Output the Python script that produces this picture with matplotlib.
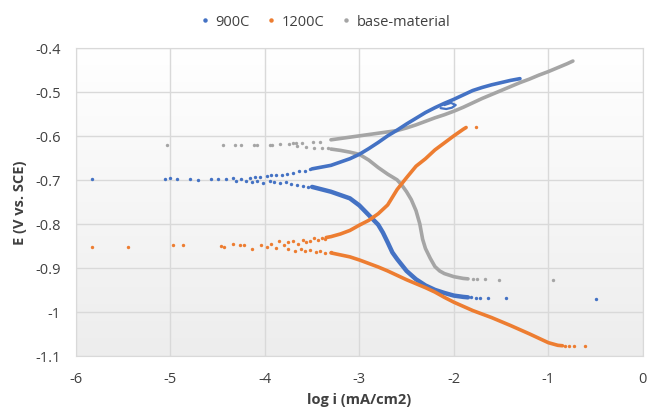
import numpy as np
import matplotlib
matplotlib.use("Agg")
import matplotlib.pyplot as plt
from matplotlib.lines import Line2D

plt.rcParams['font.family'] = ['Open Sans', 'DejaVu Sans']

BLUE = "#4472C4"
ORANGE = "#ED7D31"
GRAY = "#A5A5A5"

# ---- 900C ----
s900_sparse_x = [-5.83, -5.06, -5.0, -4.93, -4.79, -4.71, -4.57, -4.5, -4.41, -4.34, -4.3, -4.25,
                 -1.82, -1.77, -1.72, -1.64, -1.45, -0.50]
s900_sparse_y = [-0.697, -0.698, -0.696, -0.699, -0.699, -0.700, -0.699, -0.698, -0.697, -0.695, -0.703, -0.699,
                 -0.967, -0.968, -0.968, -0.968, -0.968, -0.970]
s900_noise_x = [-4.16, -4.1, -4.05, -3.98, -3.93, -3.88, -3.82, -3.76, -3.7, -3.64, -3.58, -3.52,
                -4.2, -4.14, -4.08, -4.02, -3.95, -3.9, -3.84, -3.78, -3.72, -3.66, -3.6, -3.54]
s900_noise_y = [-0.695, -0.693, -0.694, -0.691, -0.690, -0.690, -0.688, -0.687, -0.684, -0.681, -0.679, -0.676,
                -0.703, -0.706, -0.702, -0.708, -0.703, -0.705, -0.707, -0.706, -0.710, -0.712, -0.714, -0.716]
s900_anod_x = [-3.5, -3.3, -3.1, -3.0, -2.9, -2.8, -2.7, -2.6, -2.5, -2.4, -2.3, -2.2, -2.1, -2.0,
               -1.9, -1.8, -1.7, -1.6, -1.5, -1.4, -1.3]
s900_anod_y = [-0.675, -0.667, -0.652, -0.642, -0.629, -0.615, -0.600, -0.587, -0.573, -0.560, -0.547,
               -0.536, -0.526, -0.517, -0.507, -0.497, -0.490, -0.484, -0.479, -0.474, -0.470]
s900_loop_x = [-2.14, -2.08, -2.02, -1.98, -2.03, -2.1]
s900_loop_y = [-0.537, -0.539, -0.536, -0.530, -0.525, -0.530]
s900_cath_x = [-3.5, -3.3, -3.1, -3.0, -2.9, -2.8, -2.75, -2.7, -2.65, -2.6, -2.5, -2.4, -2.3, -2.2,
               -2.1, -2.0, -1.9, -1.85]
s900_cath_y = [-0.716, -0.727, -0.742, -0.758, -0.780, -0.802, -0.820, -0.842, -0.865, -0.880, -0.907,
               -0.926, -0.940, -0.950, -0.957, -0.963, -0.966, -0.967]

# ---- 1200C ----
s1200_sparse_x = [-5.83, -5.45, -4.97, -4.87, -4.46, -4.43, -4.34, -4.26, -4.22, -4.14, -4.04, -3.98,
                  -3.93, -3.88, -3.85, -3.8, -1.76, -0.82, -0.78, -0.73, -0.61]
s1200_sparse_y = [-0.852, -0.853, -0.848, -0.848, -0.850, -0.853, -0.846, -0.848, -0.848, -0.857, -0.847,
                  -0.852, -0.845, -0.855, -0.840, -0.848, -0.581, -1.078, -1.078, -1.078, -1.078]
s1200_noise_x = [-3.75, -3.7, -3.65, -3.6, -3.56, -3.52, -3.48, -3.44, -3.4, -3.36,
                 -3.75, -3.68, -3.62, -3.58, -3.52, -3.46, -3.42, -3.36, -3.3]
s1200_noise_y = [-0.842, -0.838, -0.845, -0.836, -0.841, -0.838, -0.833, -0.837, -0.832, -0.834,
                 -0.858, -0.861, -0.856, -0.862, -0.860, -0.864, -0.861, -0.866, -0.864]
s1200_anod_x = [-3.35, -3.3, -3.2, -3.1, -3.0, -2.9, -2.8, -2.7, -2.6, -2.5, -2.4, -2.3, -2.2, -2.1,
                -2.0, -1.9, -1.87]
s1200_anod_y = [-0.831, -0.829, -0.823, -0.815, -0.803, -0.792, -0.777, -0.757, -0.722, -0.695, -0.669,
                -0.652, -0.632, -0.616, -0.600, -0.585, -0.581]
s1200_cath_x = [-3.3, -3.1, -3.0, -2.9, -2.8, -2.7, -2.6, -2.5, -2.4, -2.3, -2.2, -2.1, -2.0, -1.8,
                -1.6, -1.4, -1.2, -1.0, -0.9, -0.85]
s1200_cath_y = [-0.866, -0.875, -0.882, -0.890, -0.898, -0.907, -0.917, -0.927, -0.936, -0.945, -0.955,
                -0.967, -0.978, -0.997, -1.013, -1.031, -1.050, -1.070, -1.076, -1.077]

# ---- base-material ----
base_sparse_x = [-5.03, -4.44, -4.32, -4.25, -4.11, -4.08, -3.95, -3.92, -3.84, -3.74, -3.70, -3.67,
                 -3.61, -3.49, -3.42, -3.66, -3.56, -3.48, -3.39, -3.33,
                 -1.80, -1.75, -1.67, -1.52, -0.95]
base_sparse_y = [-0.620, -0.620, -0.620, -0.620, -0.621, -0.620, -0.620, -0.621, -0.618, -0.618, -0.617,
                 -0.617, -0.616, -0.615, -0.614, -0.624, -0.626, -0.627, -0.628, -0.628,
                 -0.926, -0.926, -0.926, -0.927, -0.927]
base_anod_x = [-3.3, -3.2, -3.1, -3.0, -2.9, -2.8, -2.7, -2.6, -2.5, -2.4, -2.3, -2.2, -2.1, -2.0,
               -1.9, -1.8, -1.7, -1.6, -1.5, -1.4, -1.3, -1.2, -1.1, -1.0, -0.9, -0.8, -0.74]
base_anod_y = [-0.609, -0.606, -0.603, -0.600, -0.597, -0.594, -0.591, -0.588, -0.582, -0.575, -0.567,
               -0.559, -0.552, -0.544, -0.535, -0.525, -0.515, -0.506, -0.497, -0.488, -0.479, -0.471,
               -0.462, -0.454, -0.445, -0.436, -0.430]
base_cath_x = [-3.3, -3.2, -3.1, -3.0, -2.9, -2.8, -2.7, -2.6, -2.55, -2.5, -2.45, -2.4, -2.36, -2.33,
               -2.3, -2.25, -2.2, -2.15, -2.1, -2.0, -1.9, -1.85]
base_cath_y = [-0.630, -0.633, -0.637, -0.642, -0.655, -0.672, -0.687, -0.700, -0.712, -0.727, -0.745,
               -0.770, -0.800, -0.835, -0.856, -0.878, -0.897, -0.907, -0.913, -0.920, -0.924, -0.925]

x_ticks = [-6, -5, -4, -3, -2, -1, 0]
y_ticks = [-1.1, -1.0, -0.9, -0.8, -0.7, -0.6, -0.5, -0.4]
y_ticklabels = ["-1.1", "-1", "-0.9", "-0.8", "-0.7", "-0.6", "-0.5", "-0.4"]

fig = plt.figure(figsize=(6.48, 4.14), dpi=100)
ax = fig.add_axes([0.117, 0.138, 0.875, 0.744])

# soft excel-like gradient: white at top, light grey at bottom
grad = np.linspace(0.0, 1.0, 256).reshape(-1, 1)
cmap = matplotlib.colors.LinearSegmentedColormap.from_list("g", ["#ededed", "#ffffff"])
ax.imshow(grad, extent=[-6, 0, -1.1, -0.4], aspect="auto", cmap=cmap,
          origin="lower", zorder=0, interpolation="bicubic")

def dense(x, y, c, lw=2.6):
    ax.plot(x, y, color=c, lw=lw, solid_capstyle="round", solid_joinstyle="round", zorder=3)

def dots(x, y, c):
    ax.scatter(x, y, s=6, color=c, linewidths=0, zorder=3)

# base-material
dots(base_sparse_x, base_sparse_y, GRAY)
dense(base_anod_x, base_anod_y, GRAY)
dense(base_cath_x, base_cath_y, GRAY)
# 900C
dots(s900_sparse_x, s900_sparse_y, BLUE)
dots(s900_noise_x, s900_noise_y, BLUE)
dense(s900_anod_x, s900_anod_y, BLUE)
dense(s900_loop_x, s900_loop_y, BLUE, lw=1.6)
dense(s900_cath_x, s900_cath_y, BLUE, lw=3.2)
# 1200C
dots(s1200_sparse_x, s1200_sparse_y, ORANGE)
dots(s1200_noise_x, s1200_noise_y, ORANGE)
dense(s1200_anod_x, s1200_anod_y, ORANGE)
dense(s1200_cath_x, s1200_cath_y, ORANGE)

ax.set_xlim(-6, 0)
ax.set_ylim(-1.1, -0.4)
ax.set_xticks(x_ticks)
ax.set_xticklabels([str(t) for t in x_ticks])
ax.set_yticks(y_ticks)
ax.set_yticklabels(y_ticklabels)
ax.grid(True, color="#d9d9d9", lw=1)
ax.set_axisbelow(True)
for s in ax.spines.values():
    s.set_color("#d9d9d9")
ax.tick_params(axis="y", length=0, labelsize=10.5, colors="#404040", pad=11)
ax.tick_params(axis="x", length=0, labelsize=10.5, colors="#404040", pad=11)
ax.set_xlabel("log i (mA/cm2)", fontsize=10.5, fontweight="bold", color="#404040", labelpad=4)
ax.set_ylabel("E (V vs. SCE)", fontsize=10.5, fontweight="bold", color="#404040", labelpad=6)

handles = [Line2D([], [], ls="", marker="o", ms=2.2, color=c) for c in (BLUE, ORANGE, GRAY)]
fig.legend(handles, ["900C", "1200C", "base-material"], loc="upper center", bbox_to_anchor=(0.5, 0.995),
           ncol=3, frameon=False, fontsize=10.5, handletextpad=0.2, columnspacing=1.0,
           handlelength=1.0, labelcolor="#404040")

fig.savefig("out.png", dpi=100)
